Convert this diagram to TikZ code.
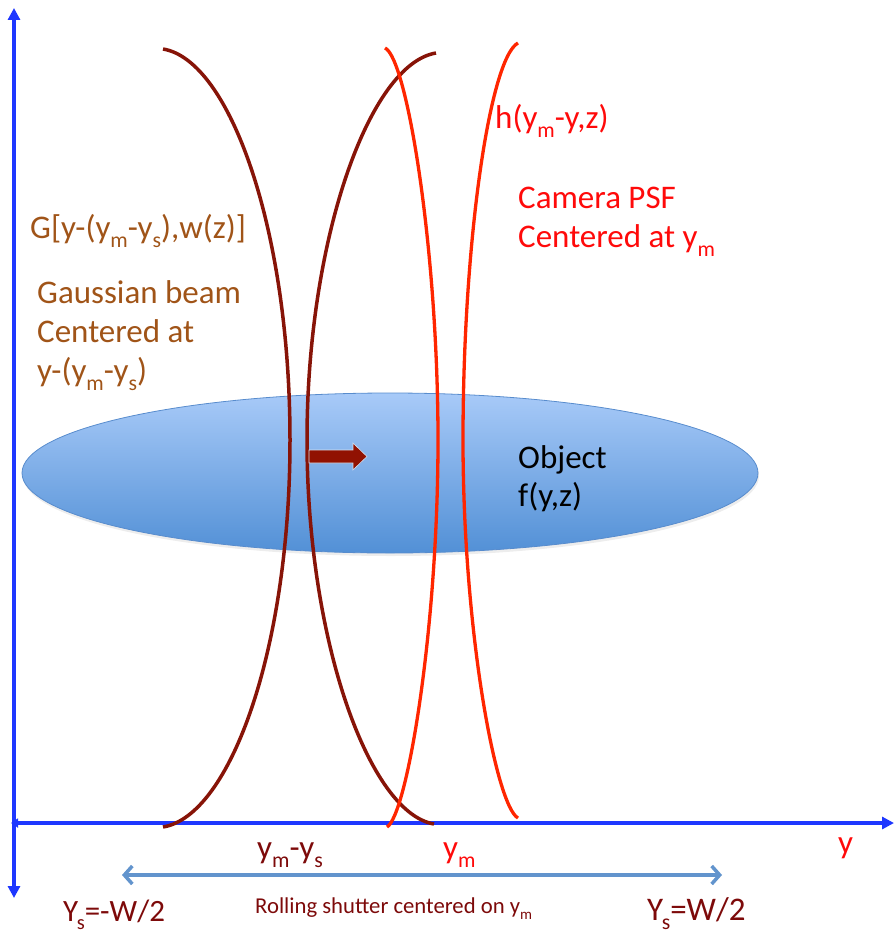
\documentclass[tikz,border=0pt]{standalone}
\usepackage{fontspec}
\usepackage{graphicx}
\setmainfont{Carlito}
\usetikzlibrary{arrows.meta}
\definecolor{axisblue}{RGB}{30,55,255}
\definecolor{dkred}{RGB}{135,20,8}
\definecolor{brred}{RGB}{255,38,0}
\definecolor{txtbrown}{RGB}{160,84,24}
\definecolor{txtred}{RGB}{255,10,10}
\definecolor{txtdk}{RGB}{125,10,10}
\definecolor{ellTop}{RGB}{168,202,248}
\definecolor{ellBot}{RGB}{82,144,214}
\definecolor{ellEdge}{RGB}{88,140,205}
\definecolor{shutter}{RGB}{98,148,205}
\definecolor{blockred}{RGB}{145,18,2}
\newcommand{\lw}[1]{\raisebox{-0.28em}{\scalebox{0.66}{#1}}}
\tikzset{
  axisline/.style={draw=axisblue, line width=3.6pt},
  dkcurve/.style={draw=dkred, line width=3.5pt},
  brcurve/.style={draw=brred, line width=3.3pt},
  lbl/.style={inner sep=0pt, anchor=base west, font=\fontsize{33}{39}\selectfont},
  lblbig/.style={inner sep=0pt, anchor=base west, font=\fontsize{32}{38}\selectfont},
  lblsmall/.style={inner sep=0pt, anchor=base west, font=\fontsize{22.7}{27}\selectfont},
}
\begin{document}
\begin{tikzpicture}[x=1pt,y=-1pt]
\useasboundingbox (0,0) rectangle (894,934);
% object ellipse
\fill[black,opacity=0.07] (391,476) ellipse [x radius=368pt, y radius=80pt];
\shade[top color=ellTop, bottom color=ellBot, draw=ellEdge, line width=0.8pt] (390,473) ellipse [x radius=368pt, y radius=80pt];
% axes
\coordinate (vtop) at (14,8);
\coordinate (vbot) at (14,898);
\coordinate (hleft) at (11,823);
\coordinate (hright) at (894,823);
\draw[axisline, {Triangle[length=12pt,width=12pt]}-{Triangle[length=12pt,width=12pt]}] (vbot) -- (vtop);
\draw[axisline, {Triangle[length=7pt,width=9pt]}-{Triangle[length=12pt,width=12pt]}] (hleft) -- (hright);
% Gaussian beam curves
\draw[dkcurve] (163,49) .. controls (230,60) and (290,230) .. (290,440) .. controls (290,650) and (230,816) .. (163,827);
\draw[dkcurve] (436,53) .. controls (369,64) and (307,240) .. (307,440) .. controls (307,640) and (369,813) .. (434,824);
% camera PSF curves
\draw[brcurve] (385,48) .. controls (407,58) and (438,250) .. (438,440) .. controls (438,630) and (407,815) .. (387,827);
\draw[brcurve] (518,43) .. controls (490,58) and (463,240) .. (463,440) .. controls (463,630) and (496,806) .. (518,818);
% block arrow
\fill[blockred, draw=white!75!ellEdge, line width=0.6pt] (309,450) -- (353,450) -- (353,443) -- (367,456.5) -- (353,470) -- (353,463) -- (309,463) -- cycle;
% shutter arrow
\coordinate (shl) at (122,875);
\coordinate (shr) at (722,875);
\draw[shutter, line width=3.5pt, {Straight Barb[length=8pt,width=18pt]}-{Straight Barb[length=8pt,width=18pt]}] (shl) -- (shr);
% labels
\node[lbl, text=txtbrown] (gform) at (30,238) {G[y-(y\lw{m}-y\lw{s}),w(z)]};
\node[lbl, text=txtbrown] (gb1) at (37,303) {Gaussian beam};
\node[lbl, text=txtbrown] (gb2) at (37,342) {Centered at};
\node[lbl, text=txtbrown] (gb3) at (37,381) {y-(y\lw{m}-y\lw{s})};
\node[lbl, text=txtred] (hform) at (495,128) {h(y\lw{m}-y,z)};
\node[lbl, text=txtred] (cp1) at (518,208) {Camera PSF};
\node[lbl, text=txtred] (cp2) at (518,247) {Centered at y\lw{m}};
\node[lbl, text=black] (ob1) at (518,468) {Object};
\node[lbl, text=black] (ob2) at (518,506) {f(y,z)};
\node[lbl, text=txtdk] (ymys) at (257,858) {y\lw{m}-y\lw{s}};
\node[lbl, text=txtred] (ym) at (443,858) {y\lw{m}};
\node[lbl, text=txtred] (yax) at (838,853) {y};
\node[lblbig, text=txtdk, font=\fontsize{31}{37}\selectfont] (ysl) at (63,921) {Y\kern-1.5pt\lw{s}=-W/2};
\node[lblbig, text=txtdk, font=\fontsize{33}{39}\selectfont] (ysr) at (647,920) {Y\kern-1.5pt\lw{s}=W/2};
\node[lblsmall, text=txtdk] (roll) at (255,913) {Rolling shutter centered on y\lw{m}};
\end{tikzpicture}
\end{document}
